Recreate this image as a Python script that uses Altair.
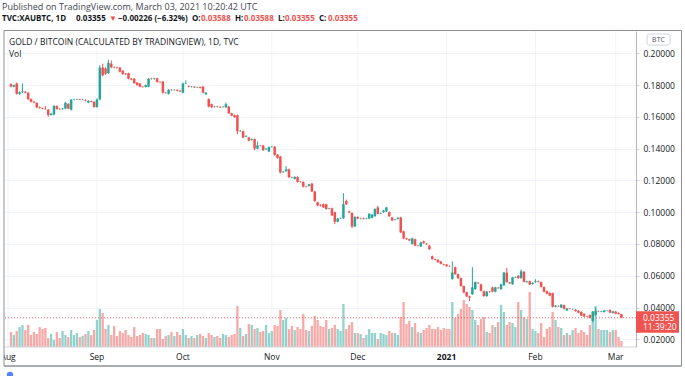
import altair as alt
import pandas as pd

# ---------------- data ----------------
dates = [str(d.date()) for d in pd.date_range("2020-08-02", "2021-03-03", freq="D")]

open_ = [
    .1805,.1790,.1810,.1745,.1755,.1758,.1752,.1712,.1695,.1688,
    .1660,.1655,.1650,.1645,.1612,.1615,.1668,.1650,.1648,.1652,
    .1682,.1645,.1708,.1710,.1712,.1709,.1706,.1690,.1700,.1695,
    .1662,.1710,.1910,.1905,.1875,.1935,.1912,.1910,.1910,.1890,
    .1872,.1875,.1840,.1840,.1815,.1810,.1790,.1788,.1790,.1840,
    .1838,.1842,.1820,.1822,.1752,.1745,.1770,.1768,.1770,.1765,
    .1752,.1810,.1792,.1788,.1790,.1785,.1787,.1790,.1742,.1712,
    .1680,.1662,.1665,.1663,.1661,.1660,.1665,.1622,.1610,.1610,
    .1510,.1510,.1476,.1470,.1455,.1460,.1400,.1420,.1420,.1396,
    .1382,.1410,.1412,.1362,.1350,.1252,.1258,.1270,.1220,.1210,
    .1222,.1192,.1190,.1162,.1165,.1180,.1130,.1062,.1045,.1050,
    .1050,.1022,.1025,.1000,.0940,.0960,.0962,.1070,.1005,.0995,
    .0910,.0970,.0960,.0962,.0958,.0960,.0965,.0975,.1030,.0992,
    .1000,.1005,.1000,.0967,.0952,.0958,.0967,.0880,.0835,.0830,
    .0800,.0830,.0790,.0785,.0817,.0802,.0790,.0723,.0705,.0700,
    .0690,.0672,.0670,.0662,.0580,.0654,.0610,.0585,.0535,.0497,
    .0470,.0484,.0516,.0556,.0546,.0502,.0472,.0500,.0527,.0500,
    .0525,.0516,.0540,.0620,.0558,.0547,.0590,.0600,.0585,.0625,
    .0560,.0566,.0548,.0560,.0566,.0560,.0529,.0503,.0492,.0490,
    .0405,.0410,.0400,.0415,.0382,.0394,.0390,.0386,.0380,.0372,
    .0360,.0345,.0353,.0315,.0352,.0376,.0374,.0372,.0379,.0384,
    .0366,.0374,.0366,.03588]

high = [
    .1812,.1803,.1815,.1760,.1810,.1762,.1755,.1716,.1700,.1692,
    .1666,.1658,.1668,.1648,.1625,.1675,.1672,.1655,.1656,.1695,
    .1686,.1712,.1714,.1715,.1714,.1713,.1710,.1705,.1703,.1698,
    .1715,.1925,.1935,.1912,.1960,.1955,.1918,.1916,.1914,.1895,
    .1876,.1878,.1845,.1844,.1818,.1813,.1794,.1803,.1845,.1845,
    .1846,.1846,.1824,.1826,.1756,.1775,.1774,.1774,.1773,.1768,
    .1815,.1830,.1798,.1794,.1793,.1790,.1791,.1795,.1756,.1716,
    .1684,.1668,.1669,.1667,.1667,.1690,.1669,.1626,.1614,.1614,
    .1518,.1514,.1484,.1474,.1464,.1464,.1445,.1424,.1424,.1404,
    .1414,.1416,.1416,.1366,.1354,.1260,.1290,.1274,.1224,.1226,
    .1226,.1196,.1194,.1166,.1178,.1184,.1134,.1066,.1050,.1054,
    .1054,.1028,.1029,.1004,.0964,.0966,.1120,.1080,.1010,.0999,
    .0975,.0974,.0965,.0966,.0964,.0994,.0989,.1024,.1040,.0998,
    .1014,.1034,.1004,.0971,.0958,.0968,.0971,.0884,.0839,.0834,
    .0840,.0834,.0794,.0814,.0821,.0806,.0794,.0727,.0708,.0704,
    .0694,.0676,.0674,.0666,.0690,.0658,.0614,.0589,.0539,.0501,
    .0474,.0654,.0564,.0560,.0550,.0506,.0504,.0504,.0531,.0531,
    .0529,.0550,.0624,.0650,.0562,.0594,.0596,.0604,.0640,.0629,
    .0569,.0570,.0559,.0578,.0570,.0564,.0533,.0507,.0496,.0494,
    .0416,.0414,.0422,.0419,.0398,.0397,.0395,.0390,.0384,.0376,
    .0364,.0348,.0357,.0379,.0400,.0380,.0380,.0385,.0384,.0388,
    .0380,.0378,.0370,.03588]

low = [
    .1785,.1786,.1740,.1738,.1750,.1748,.1705,.1690,.1686,.1655,
    .1652,.1648,.1645,.1600,.1608,.1610,.1645,.1644,.1645,.1648,
    .1648,.1640,.1704,.1706,.1706,.1705,.1698,.1686,.1692,.1658,
    .1658,.1705,.1855,.1865,.1870,.1905,.1906,.1903,.1880,.1865,
    .1864,.1836,.1830,.1808,.1796,.1786,.1784,.1784,.1786,.1834,
    .1834,.1815,.1814,.1746,.1746,.1740,.1764,.1765,.1761,.1756,
    .1748,.1806,.1786,.1785,.1782,.1782,.1779,.1748,.1738,.1660,
    .1656,.1658,.1659,.1656,.1658,.1656,.1618,.1604,.1594,.1490,
    .1505,.1466,.1472,.1446,.1451,.1390,.1396,.1414,.1386,.1392,
    .1378,.1406,.1356,.1338,.1244,.1247,.1254,.1216,.1214,.1206,
    .1186,.1187,.1156,.1156,.1161,.1126,.1066,.1038,.1036,.1026,
    .1016,.1018,.0976,.0925,.0936,.0956,.0958,.1046,.0994,.0900,
    .0906,.0956,.0956,.0954,.0955,.0956,.0961,.0971,.0986,.0988,
    .0996,.1001,.0971,.0944,.0948,.0954,.0868,.0830,.0826,.0818,
    .0796,.0786,.0784,.0781,.0801,.0794,.0763,.0701,.0697,.0682,
    .0672,.0665,.0657,.0657,.0575,.0606,.0581,.0531,.0491,.0466,
    .0440,.0480,.0512,.0548,.0501,.0468,.0468,.0494,.0496,.0496,
    .0518,.0512,.0536,.0556,.0548,.0543,.0586,.0581,.0581,.0558,
    .0556,.0541,.0544,.0556,.0558,.0526,.0496,.0483,.0471,.0400,
    .0401,.0404,.0396,.0388,.0378,.0389,.0387,.0374,.0364,.0346,
    .0341,.0340,.0331,.0308,.0348,.0371,.0370,.0368,.0377,.0364,
    .0362,.0358,.03575,.03355]

close = [
    .1790,.1800,.1745,.1755,.1760,.1752,.1712,.1695,.1690,.1660,
    .1655,.1652,.1648,.1612,.1620,.1668,.1650,.1648,.1652,.1688,
    .1652,.1708,.1710,.1712,.1709,.1711,.1702,.1700,.1695,.1662,
    .1710,.1910,.1862,.1872,.1940,.1912,.1910,.1908,.1885,.1870,
    .1868,.1840,.1835,.1812,.1800,.1790,.1788,.1800,.1840,.1838,
    .1842,.1820,.1818,.1752,.1750,.1770,.1768,.1770,.1765,.1760,
    .1810,.1812,.1788,.1790,.1785,.1787,.1782,.1752,.1752,.1665,
    .1660,.1664,.1663,.1660,.1663,.1680,.1622,.1608,.1598,.1510,
    .1512,.1470,.1480,.1450,.1460,.1400,.1420,.1418,.1390,.1400,
    .1410,.1412,.1360,.1342,.1250,.1255,.1270,.1220,.1218,.1222,
    .1190,.1190,.1160,.1160,.1175,.1130,.1070,.1042,.1040,.1030,
    .1020,.1025,.0980,.0940,.0960,.0962,.1050,.1050,.0998,.0910,
    .0970,.0960,.0962,.0958,.0960,.0990,.0985,.1020,.0990,.0995,
    .1010,.1030,.0975,.0948,.0955,.0965,.0873,.0835,.0830,.0822,
    .0836,.0790,.0788,.0810,.0805,.0798,.0767,.0705,.0700,.0685,
    .0675,.0668,.0660,.0660,.0620,.0610,.0585,.0535,.0495,.0470,
    .0462,.0527,.0560,.0552,.0505,.0472,.0500,.0498,.0500,.0527,
    .0522,.0546,.0620,.0560,.0552,.0590,.0592,.0585,.0628,.0562,
    .0565,.0545,.0555,.0566,.0562,.0530,.0500,.0487,.0475,.0405,
    .0412,.0408,.0418,.0392,.0394,.0392,.0391,.0378,.0368,.0350,
    .0345,.0343,.0335,.0375,.0378,.0374,.0377,.0381,.0381,.0368,
    .0376,.0362,.03581,.03355]

volume = [
    15,12,16,20,22,17,22,12,15,13,20,18,19,9,13,7,15,9,16,12,10,17,12,14,10,11,13,16,12,17,27,
    38,34,18,22,
    12,21,11,16,14,17,12,10,20,11,12,14,13,12,9,9,18,18,8,11,12,15,11,15,12,
    18,12,9,11,9,12,13,11,9,14,12,10,11,9,13,12,10,12,13,41,19,11,13,23,22,18,19,15,16,22,14,
    16,22,21,37,27,29,18,21,17,20,18,33,17,16,21,31,27,21,20,27,18,19,22,18,16,43,18,22,25,14,
    14,13,9,12,18,14,14,8,14,13,12,16,14,14,12,30,45,23,26,20,24,15,14,17,19,22,18,18,20,17,19,
    18,18,45,29,33,38,47,43,40,37,27,22,28,30,15,14,22,20,25,42,35,22,25,24,20,45,37,30,28,55,18,
    16,14,24,10,18,20,35,27,20,19,12,14,12,17,19,14,17,15,12,22,29,41,18,17,17,17,15,17,
    17,10,6]

month_ticks = ["2020-08-01", "2020-09-01", "2020-10-01", "2020-11-01",
               "2020-12-01", "2021-01-01", "2021-02-01", "2021-03-01"]
month_labels = ["Aug", "Sep", "Oct", "Nov", "Dec", "2021", "Feb", "Mar"]
price_ticks = [0.02, 0.04, 0.06, 0.08, 0.10, 0.12, 0.14, 0.16, 0.18, 0.20]
last_price = [0.03355]
last_price_text = "0.03355"
countdown_text = "11:39:20"

n = len(dates)
assert all(len(a) == n for a in (open_, high, low, close, volume)), [len(a) for a in (open_, high, low, close, volume)]

df = pd.DataFrame({"date": dates, "open": open_, "high": high, "low": low,
                   "close": close, "volume": volume})
months = pd.DataFrame({"date": month_ticks, "label": month_labels})

# ---------------- styling ----------------
GREEN = "#26a69a"
RED = "#ef5350"
VGREEN = "#92d2cc"
VRED = "#f7a9a7"
GRID = "#f0f3fa"
DARK = "#131722"
FRAME = "#8d9099"
FONT = "Open Sans"

W, H = 631, 316           # plot area
PADL, PADT = 5, 31        # page offset of plot area

def px(x):  # page x -> plot x
    return x - PADL

def py(y):  # page y -> plot y
    return y - PADT

xscale = alt.Scale(type="utc",
                   domain=[alt.DateTime(year=2020, month=8, date=1, hours=15, minutes=46, utc=True),
                           alt.DateTime(year=2021, month=3, date=6, hours=8, minutes=24, utc=True)])
pscale = alt.Scale(domain=[0.01517, 0.21403], zero=False, nice=False)
X = alt.X("date:T", scale=xscale, axis=None)
up = "datum.close >= datum.open"

one = pd.DataFrame({"k": [0]})

def txt(s, x, y, size=8.5, color=DARK, weight="normal", align="left", font=FONT):
    return alt.Chart(pd.DataFrame({"t": [s]})).mark_text(
        align=align, baseline="middle", fontSize=size, color=color,
        fontWeight=weight, font=font).encode(
        x=alt.value(px(x)), y=alt.value(py(y)), text="t:N")

def hline(y, x1, x2, color, width=1.0):
    return alt.Chart(one).mark_rule(color=color, strokeWidth=width).encode(
        x=alt.value(px(x1)), x2=alt.value(px(x2)), y=alt.value(py(y)))

def vline(x, y1, y2, color, width=1.0):
    return alt.Chart(one).mark_rule(color=color, strokeWidth=width).encode(
        x=alt.value(px(x)), y=alt.value(py(y1)), y2=alt.value(py(y2)))

# vertical month grid
vgrid = alt.Chart(months).mark_rule(color=GRID, strokeWidth=1, clip=True).encode(
    x=X, y=alt.value(0), y2=alt.value(H))

# volume
vol = alt.Chart(df).mark_bar(size=2.3).encode(
    x=X,
    y=alt.Y("volume:Q", scale=alt.Scale(domain=[0, H], nice=False), axis=None),
    color=alt.condition(up, alt.value(VGREEN), alt.value(VRED)))

# last price dotted line
pline = alt.Chart(pd.DataFrame({"p": last_price})).mark_rule(
    color=RED, strokeDash=[1, 2], strokeWidth=1, opacity=0.9).encode(
    y=alt.Y("p:Q", scale=pscale, axis=None), x=alt.value(0), x2=alt.value(W))

# wicks (carry the price axis + horizontal grid)
wicks = alt.Chart(df).mark_rule(strokeWidth=1).encode(
    x=X,
    y=alt.Y("low:Q", scale=pscale,
            axis=alt.Axis(orient="right", values=price_ticks, format=".5f", title=None,
                          grid=True, gridColor=GRID, domain=True, domainColor="#b2b5be",
                          ticks=True, tickSize=3, tickColor="#d1d4dc", labelPadding=4,
                          labelFont=FONT, labelFontSize=8.5, labelColor=DARK)),
    y2="high:Q",
    color=alt.condition(up, alt.value(GREEN), alt.value(RED)))

bodies = alt.Chart(df).mark_bar(size=2.5).encode(
    x=X,
    y=alt.Y("open:Q", scale=pscale, axis=None),
    y2="close:Q",
    color=alt.condition(up, alt.value(GREEN), alt.value(RED)))

# last price label on the price scale
pbox = alt.Chart(pd.DataFrame({"p": last_price})).mark_rect(
    color=RED, yOffset=-6.5, y2Offset=15).encode(
    y=alt.Y("p:Q", scale=pscale, axis=None), y2="p:Q",
    x=alt.value(px(636)), x2=alt.value(px(679)))
ptxt1 = alt.Chart(pd.DataFrame({"p": last_price, "t": [last_price_text]})).mark_text(
    align="left", baseline="middle", fontSize=8.5, color="white", font=FONT).encode(
    y=alt.Y("p:Q", scale=pscale, axis=None), x=alt.value(px(643)), text="t:N")
ptxt2 = alt.Chart(pd.DataFrame({"p": last_price, "t": [countdown_text]})).mark_text(
    align="left", baseline="middle", fontSize=8.5, color="white", font=FONT, dy=9.5).encode(
    y=alt.Y("p:Q", scale=pscale, axis=None), x=alt.value(px(643)), text="t:N")

# month labels
mlab = alt.Chart(months).transform_filter("utcmonth(toDate(datum.date)) != 0").mark_text(
    align="center", baseline="middle", fontSize=8.5, color=DARK, font=FONT).encode(
    x=X, y=alt.value(py(357)), text="label:N")
ylab = alt.Chart(months).transform_filter("utcmonth(toDate(datum.date)) == 0").mark_text(
    align="center", baseline="middle", fontSize=8.5, color=DARK, font=FONT,
    fontWeight="bold").encode(
    x=X, y=alt.value(py(357)), text="label:N")

# white cover left of frame (clips the "Aug" label like the original)
cover = alt.Chart(one).mark_rect(color="white").encode(
    x=alt.value(px(0)), x2=alt.value(px(4)), y=alt.value(py(348)), y2=alt.value(py(366)))

# BTC currency box
btc_box = alt.Chart(one).mark_rect(fill="white", stroke="#d1d4dc", strokeWidth=1,
                                   cornerRadius=2).encode(
    x=alt.value(px(647)), x2=alt.value(px(670)), y=alt.value(py(34)), y2=alt.value(py(45)))
btc_txt = txt("BTC", 658.5, 39.5, size=7, color="#50535e", align="center")

# frame
frame = [
    hline(30.5, 4, 681.5, FRAME),
    hline(366, 4, 681.5, FRAME, 1.5),
    vline(4, 30.5, 366, FRAME),
    vline(681.5, 30.5, 366, FRAME),
    hline(347, 5, 636, "#d1d4dc"),
]

# header texts
header = [
    txt("Published on TradingView.com, March 03, 2021 10:20:42 UTC", 2, 7, size=9, color="#434651"),
]
segs = [
    ("TVC:XAUBTC, 1D", 2, DARK),
    ("0.03355", 76, DARK),
    ("\u25bc", 109, RED),
    ("\u22120.00226 (\u22126.32%)", 118, DARK),
    ("O:", 192, DARK), ("0.03588", 201, RED),
    ("H:", 235, DARK), ("0.03588", 244, RED),
    ("L:", 278, DARK), ("0.03355", 285, RED),
    ("C:", 319, DARK), ("0.03355", 328, RED),
]
for s, x, c in segs:
    header.append(txt(s, x, 19, size=8, color=c, weight="bold"))

header.append(txt("GOLD / BITCOIN (CALCULATED BY TRADINGVIEW), 1D, TVC", 9, 42, size=8.5, color=DARK))
header.append(txt("Vol", 9, 54, size=8.5, color=DARK))

logo = alt.Chart(one).mark_point(filled=True, color="#2962ff", size=40, opacity=0.8).encode(
    x=alt.value(px(10)), y=alt.value(py(375)))

chart = alt.layer(
    vgrid, vol, pline, wicks, bodies, pbox, ptxt1, ptxt2, mlab, ylab, cover,
    btc_box, btc_txt, *frame, *header, logo
).resolve_scale(y="independent").properties(
    width=W, height=H, autosize="none",
    padding={"left": PADL, "top": PADT, "right": 685 - PADL - W, "bottom": 376 - PADT - H},
    background="white",
).configure_view(stroke=None)

chart.save("out.html", embed_options={"renderer": "svg", "actions": False})
